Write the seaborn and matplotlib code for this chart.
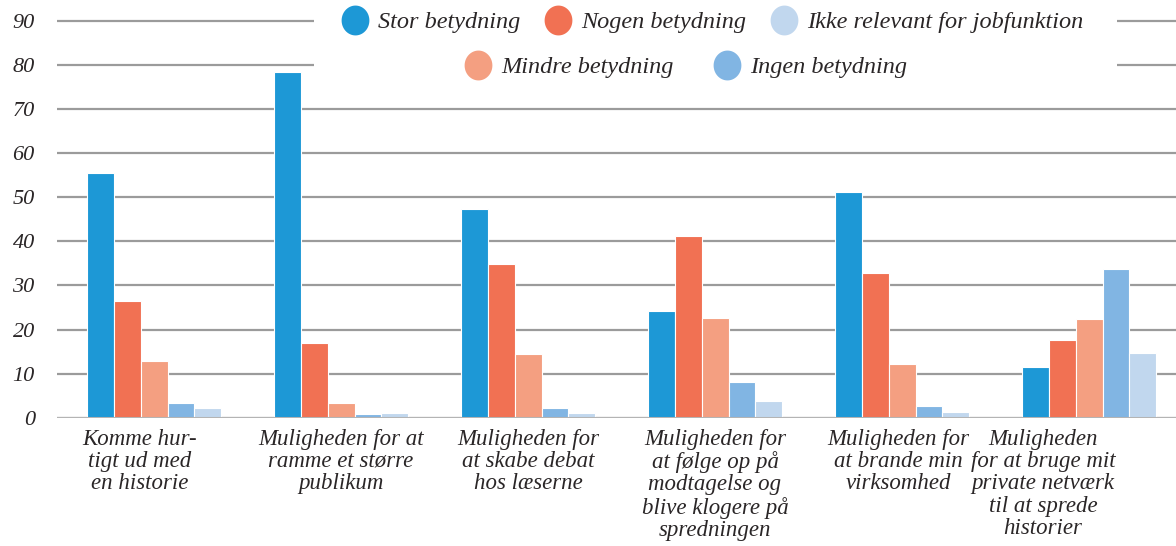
import matplotlib
matplotlib.use("Agg")
import matplotlib.pyplot as plt
from matplotlib.lines import Line2D
from matplotlib.path import Path
from matplotlib.patches import Rectangle
from matplotlib.transforms import ScaledTranslation
import numpy as np
import pandas as pd
import seaborn as sns

# --- data -------------------------------------------------------------
categories = [
    "Komme hur-\ntigt ud med\nen historie",
    "Muligheden for at\nramme et større\npublikum",
    "Muligheden for\nat skabe debat\nhos læserne",
    "Muligheden for\nat følge op på\nmodtagelse og\nblive klogere på\nspredningen",
    "Muligheden for\nat brande min\nvirksomhed",
    "Muligheden\nfor at bruge mit\nprivate netværk\ntil at sprede\nhistorier",
]
series = ["Stor betydning", "Nogen betydning", "Mindre betydning",
          "Ingen betydning", "Ikke relevant for jobfunktion"]
stor = [55.5, 78.4, 47.3, 24.2, 51.2, 11.5]
nogen = [26.5, 16.9, 34.9, 41.2, 32.8, 17.6]
mindre = [12.9, 3.3, 14.5, 22.6, 12.2, 22.4]
ingen = [3.3, 0.8, 2.2, 8.1, 2.7, 33.7]
ikke_relevant = [2.2, 1.1, 1.1, 3.8, 1.3, 14.7]
y_ticks = [0, 10, 20, 30, 40, 50, 60, 70, 80, 90]

colors = {
    "Stor betydning": "#1d98d6",
    "Nogen betydning": "#f17153",
    "Mindre betydning": "#f49f81",
    "Ingen betydning": "#81b5e3",
    "Ikke relevant for jobfunktion": "#c1d7ee",
}

values = [stor, nogen, mindre, ingen, ikke_relevant]
df = pd.DataFrame(
    [(cat, s, v) for s, vals in zip(series, values) for cat, v in zip(categories, vals)],
    columns=["kategori", "svar", "andel"],
)

# --- style ------------------------------------------------------------
sns.set_style("white")
plt.rcParams["font.family"] = ["Liberation Serif", "DejaVu Serif"]
plt.rcParams["font.style"] = "italic"
text_color = "#2a2627"

W, H = 1176, 546
fig = plt.figure(figsize=(W / 100, H / 100), dpi=100)
ax = fig.add_axes([57 / W, 128.3 / H, (W - 57) / W, 405.5 / H])

sns.barplot(
    data=df, x="kategori", y="andel", hue="svar",
    hue_order=series, order=categories, palette=colors,
    saturation=1, width=0.72, errorbar=None, legend=False,
    edgecolor="white", linewidth=0.8, ax=ax,
)

ax.set_xlim(-0.519, 5.465)
ax.set_ylim(0, 92)
ax.set_yticks(y_ticks)
ax.set_yticklabels([str(t) for t in y_ticks], fontsize=16, color=text_color)
ax.set_axisbelow(True)
ax.yaxis.grid(True, color="#9b9b9b", linewidth=1.6)
ax.axhline(0, color="#b4b4b4", linewidth=2.2, zorder=3)
ax.set_xlabel("")
ax.set_ylabel("")
for s in ax.spines.values():
    s.set_visible(False)
ax.tick_params(axis="y", length=0, pad=16)
ax.tick_params(axis="x", length=0, pad=8)

# category labels
ax.set_xticks(range(len(categories)))
ax.set_xticklabels(categories, fontsize=16.5, color=text_color, linespacing=1.08,
                   ha="center", va="top")
label_shift_px = [-14, 0, 0, 0, -4, -46]
for lbl, dx in zip(ax.get_xticklabels(), label_shift_px):
    lbl.set_transform(lbl.get_transform() + ScaledTranslation(dx / 100, 0, fig.dpi_scale_trans))

# --- legend -----------------------------------------------------------
theta = np.linspace(0, 2 * np.pi, 64)
ellipse = Path(np.column_stack([0.93 * np.cos(theta), np.sin(theta)]), closed=True)


def handle(name):
    return Line2D([], [], marker=ellipse, linestyle="none", markersize=21.5,
                  markerfacecolor=colors[name], markeredgewidth=0)


fig.add_artist(Rectangle((314 / W, (H - 92) / H), (1117 - 314) / W, 92 / H,
                         transform=fig.transFigure, facecolor="white",
                         edgecolor="none", zorder=4))

rows = [
    (["Stor betydning", "Nogen betydning", "Ikke relevant for jobfunktion"], 712, 22, 0.95),
    (["Mindre betydning", "Ingen betydning"], 685, 67, 1.6),
]
for names, cx, cy, colsp in rows:
    leg = fig.legend(
        [handle(n) for n in names], names, loc="center",
        bbox_to_anchor=(cx / W, (H - cy) / H), ncol=len(names),
        frameon=False, fontsize=17.5, handlelength=1.2, handletextpad=0.35,
        columnspacing=colsp, borderpad=0, borderaxespad=0,
    )
    leg.set_zorder(5)
    for t in leg.get_texts():
        t.set_color(text_color)

fig.savefig("out.png", dpi=100)
